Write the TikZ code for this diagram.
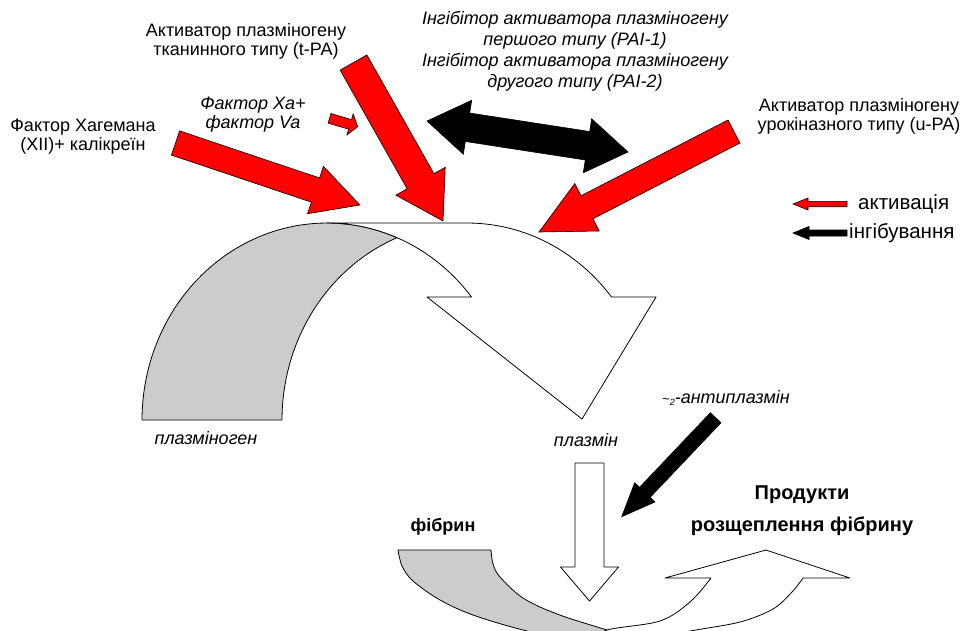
\documentclass[tikz,border=0pt]{standalone}
\usepackage{fontspec}
\setmainfont{Liberation Sans}
\usetikzlibrary{calc}
\definecolor{shadegrey}{RGB}{204,204,204}
\tikzset{
  redarr/.style={fill=red, draw=black, line width=0.6pt, line join=miter},
  blkarr/.style={fill=black, draw=black, line width=0.6pt, line join=miter},
  whiteshape/.style={fill=white, draw=black, line width=0.8pt, line join=round},
  greyshape/.style={fill=shadegrey, draw=black, line width=0.8pt, line join=round},
  lbl/.style={inner sep=0pt, align=center, font=\fontsize{18}{19}\selectfont},
  ilbl/.style={inner sep=0pt, align=center, font=\fontsize{18}{19}\selectfont\itshape},
  blbl/.style={inner sep=0pt, align=center, font=\fontsize{18}{19}\selectfont\bfseries},
}
% single block arrow: style, tail coord, tip coord, half shaft, half head, head length
\newcommand\blockarr[6]{%
  \path ($(#3)!#6!(#2)$) coordinate (bm);
  \draw[#1] ($(#2)!#4!90:(#3)$) -- ($(bm)!#4!-90:(#2)$) -- ($(bm)!#5!-90:(#2)$) -- (#3)
    -- ($(bm)!#5!90:(#2)$) -- ($(bm)!#4!90:(#2)$) -- ($(#2)!#4!-90:(#3)$) -- cycle;}
% double block arrow: style, left tip, right tip, half shaft, half head, head length
\newcommand\dblarr[6]{%
  \path ($(#2)!#6!(#3)$) coordinate (dml) ($(#3)!#6!(#2)$) coordinate (dmr);
  \draw[#1] (#2) -- ($(dml)!#5!90:(#3)$) -- ($(dml)!#4!90:(#3)$) -- ($(dmr)!#4!-90:(#2)$)
    -- ($(dmr)!#5!-90:(#2)$) -- (#3) -- ($(dmr)!#5!90:(#2)$) -- ($(dmr)!#4!90:(#2)$)
    -- ($(dml)!#4!-90:(#3)$) -- ($(dml)!#5!-90:(#3)$) -- cycle;}
\begin{document}
\begin{tikzpicture}[x=1pt,y=-1pt]
\useasboundingbox (0,0) rectangle (965,630);
\clip (0,0) rectangle (965,630);

% ---- upper curved arrow (plasminogen -> plasmin)
\draw[greyshape]
  plot[domain=180:67.77, samples=60, variable=\t] ({327+185*cos(\t)},{420-197*sin(\t)})
  -- plot[domain=112.23:180, samples=60, variable=\t] ({467+185*cos(\t)},{420-197*sin(\t)})
  -- cycle;
\draw[whiteshape]
  (327,223) -- (467,223)
  -- plot[domain=90:38.63, samples=50, variable=\t] ({467+185*cos(\t)},{420-197*sin(\t)})
  -- (656,297) -- (582,419) -- (427,297)
  -- plot[domain=38.63:90, samples=50, variable=\t] ({327+185*cos(\t)},{420-197*sin(\t)})
  -- cycle;

% ---- lower curved arrow (fibrin -> products)
\draw[greyshape]
  (398,550) -- (491,550)
  -- plot[smooth, tension=0.55] coordinates {(491,550) (493,564) (500,577) (523,598) (557,614) (607,630) (640,640)}
  -- plot[smooth, tension=0.55] coordinates {(640,650) (580,642) (523,630) (473,615) (440,600) (413,581) (402,566) (398,550)}
  -- cycle;
\draw[whiteshape]
  plot[smooth, tension=0.55] coordinates {(590,642) (607,630) (660,621) (690,602) (711,578)}
  -- (665,578) -- (766,550) -- (850,578) -- (803,578)
  -- plot[smooth, tension=0.55] coordinates {(803,578) (792,592) (773,609) (740,622) (690,631) (630,642)}
  -- cycle;

% ---- plasmin down arrow
\coordinate (plT) at (589.5,463);
\coordinate (plH) at (589.5,601);
\blockarr{whiteshape}{plT}{plH}{14.5pt}{29pt}{34pt}

% ---- red activation arrows
\coordinate (hagT) at (175.5,143);  \coordinate (hagH) at (360,205);
\coordinate (tpaT) at (353.5,62.5); \coordinate (tpaH) at (443,221);
\coordinate (upaT) at (734,131.5);  \coordinate (upaH) at (539,232);
\coordinate (xaT) at (329.5,118.3); \coordinate (xaH) at (357.7,126.7);
\blockarr{redarr}{hagT}{hagH}{12.8pt}{25pt}{47pt}
\blockarr{redarr}{tpaT}{tpaH}{15.4pt}{28.4pt}{45.7pt}
\blockarr{redarr}{upaT}{upaH}{13pt}{26.7pt}{54pt}
\blockarr{redarr}{xaT}{xaH}{5pt}{11pt}{8pt}

% ---- black inhibition arrows
\coordinate (paiL) at (427,121); \coordinate (paiR) at (628,152);
\dblarr{blkarr}{paiL}{paiR}{14.4pt}{27.3pt}{41pt}
\coordinate (apT) at (715.7,417.7); \coordinate (apH) at (621.7,516.7);
\blockarr{blkarr}{apT}{apH}{7.3pt}{14pt}{33.6pt}

% ---- legend
\coordinate (lgaT) at (847,204); \coordinate (lgaH) at (793,204);
\coordinate (lgiT) at (847,233); \coordinate (lgiH) at (793,233);
\blockarr{redarr}{lgaT}{lgaH}{2.7pt}{6pt}{15pt}
\blockarr{blkarr}{lgiT}{lgiH}{3pt}{6.5pt}{16pt}
\node[lbl, font=\fontsize{20.5}{21}\selectfont, anchor=west] (lga) at (858,204) {активація};
\node[lbl, font=\fontsize{20.5}{21}\selectfont, anchor=west] (lgi) at (849,233) {інгібування};

% ---- labels
\node[lbl] (tpa) at (246,41) {Активатор плазміногену\\тканинного типу (t-PA)};
\node[lbl] (hag) at (83,137) {Фактор Хагемана\\(XII)+ калікреїн};
\node[ilbl] (xa) at (253,115) {Фактор Ха+\\фактор Va};
\node[ilbl, font=\fontsize{18}{21}\selectfont\itshape] (pai) at (575,51) {Інгібітор активатора плазміногену\\першого типу (PAI-1)\\Інгібітор активатора плазміногену\\другого типу (PAI-2)};
\node[lbl] (upa) at (859,116) {Активатор плазміногену\\урокіназного типу (u-PA)};
\node[ilbl] (plg) at (206,438) {плазміноген};
\node[ilbl] (plm) at (586,440) {плазмін};
\node[ilbl] (ap) at (726,398) {{\fontsize{13}{13}\selectfont\textasciitilde}{\fontsize{9}{9}\selectfont\raisebox{-2pt}{2}}-антиплазмін};
\node[blbl] (fib) at (443,527) {фібрин};
\node[blbl, font=\fontsize{20}{21}\selectfont\bfseries] (prod) at (802,511) {Продукти\\[11pt]розщеплення фібрину};
\end{tikzpicture}
\end{document}
